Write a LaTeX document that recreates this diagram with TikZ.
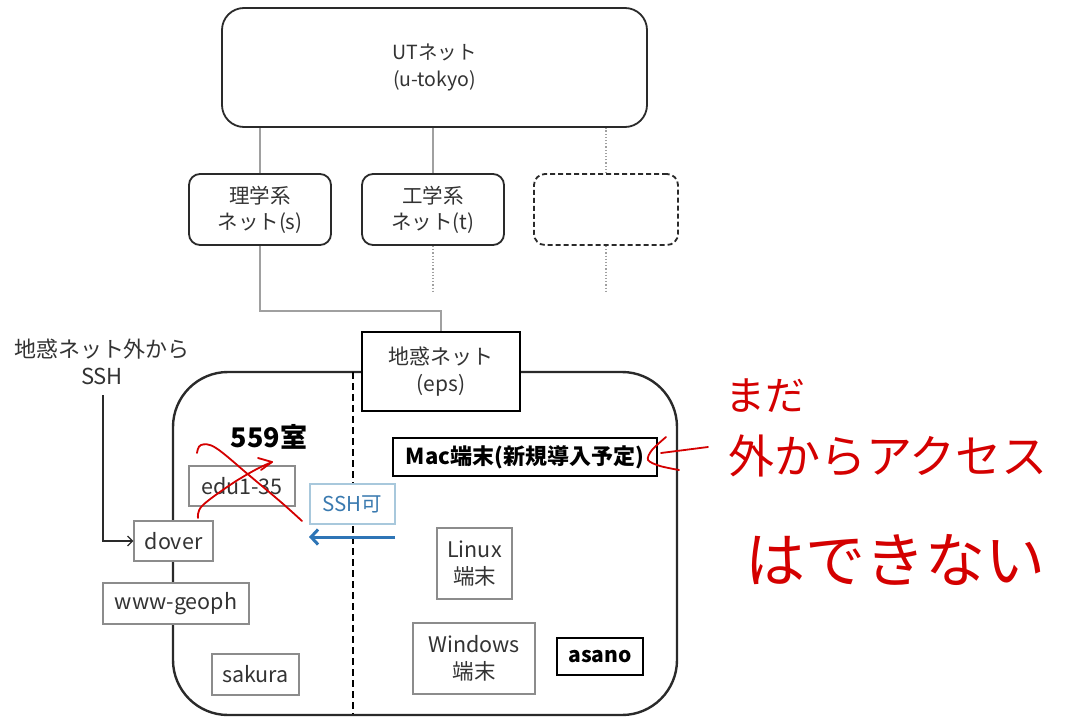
\documentclass[tikz,border=0pt]{standalone}
\usepackage{fontspec}
\setmainfont{Noto Sans CJK JP}
\usetikzlibrary{arrows.meta}
\definecolor{lgray}{HTML}{A0A0A0}
\definecolor{bgray}{HTML}{8C8C8C}
\definecolor{tgray}{HTML}{333333}
\definecolor{dkline}{HTML}{2A2A2A}
\definecolor{hred}{HTML}{D40000}
\definecolor{sshblue}{HTML}{3A7AB0}
\definecolor{sshborder}{HTML}{A8C8DC}
\definecolor{arrblue}{HTML}{2E75B6}
\tikzset{
  base/.style={font=\fontsize{20.5}{26}\selectfont, text=tgray, align=center, inner sep=0pt},
  netbox/.style={base, draw=dkline, line width=1.8pt, rounded corners=11pt, fill=white},
  graybox/.style={base, font=\fontsize{21.5}{27}\selectfont, draw=bgray, line width=1.1pt, fill=white},
  blackbox/.style={base, draw=black, line width=1.1pt, fill=white, text=black, font=\fontsize{22}{24}\selectfont\bfseries},
  gline/.style={draw=lgray, line width=1.2pt},
  dline/.style={draw=lgray, line width=1.2pt, dotted},
  hand/.style={text=hred, inner sep=0pt},
  redpen/.style={draw=hred, line width=1.8pt, line cap=round, line join=round},
}
\begin{document}
\begin{tikzpicture}[x=1pt, y=-1pt]
\useasboundingbox (0,0) rectangle (1066,717);
\fill[white] (0,0) rectangle (1066,717);

% top network
\node[netbox, font=\fontsize{19.5}{27}\selectfont, rounded corners=22pt, minimum width=425pt, minimum height=119pt] (ut) at (434.5,67.5) {UTネット\\(u-tokyo)};
\node[netbox, minimum width=142pt, minimum height=71pt] (rig) at (260,209.5) {理学系\\ネット(s)};
\node[netbox, minimum width=142pt, minimum height=71pt] (kog) at (433,209.5) {工学系\\ネット(t)};
\node[netbox, dashed, dash pattern=on 5pt off 3pt, minimum width=144pt, minimum height=71pt] (dsh) at (606,209.5) {};

\draw[gline] (rig.north) -- (rig.north |- ut.south);
\draw[gline] (kog.north) -- (kog.north |- ut.south);
\draw[dline] (dsh.north) -- (dsh.north |- ut.south);
\draw[dline] (kog.south) -- ++(0,47);
\draw[dline] (dsh.south) -- ++(0,47);

% big eps area
\node[draw=dkline, line width=2.4pt, rounded corners=55pt, minimum width=504pt, minimum height=343pt, inner sep=0pt] (big) at (425,543.5) {};
\draw[black, line width=2.4pt, dash pattern=on 7pt off 4pt] (353,372) coordinate (dtop) -- (353,714) coordinate (dbot);

\node[base, font=\fontsize{21}{27}\selectfont, draw=black, line width=2.2pt, fill=white, minimum width=158pt, minimum height=79pt] (eps) at (441,371.5) {地惑ネット\\(eps)};
\draw[gline] (rig.south) -- ++(0,65) -| (eps.north);

% left side
\node[base, font=\fontsize{22}{27}\selectfont] (ext) at (102,362) {地惑ネット外から\\SSH};
\coordinate (sshstart) at (103,395);
\node[base, font=\fontsize{27}{28}\selectfont\bfseries, text=black] (room) at (269,437) {559室};
\node[graybox, minimum width=106pt, minimum height=40pt] (edu) at (242,486) {edu1-35};
\node[graybox, minimum width=79pt, minimum height=40pt] (dover) at (173.5,541) {dover};
\node[graybox, minimum width=146pt, minimum height=41pt] (www) at (176,603.5) {www-geoph};
\node[graybox, minimum width=87pt, minimum height=41pt] (sakura) at (255.5,674.5) {sakura};
\draw[dkline, line width=1.3pt, -{Straight Barb[length=5pt, width=10pt]}] (sshstart) |- (dover.west);

% SSH allowed
\node[base, draw=sshborder, line width=1.1pt, fill=white, text=sshblue, minimum width=85pt, minimum height=40pt] (sshk) at (352.5,504) {SSH可};
\coordinate (ba1) at (395,537);
\coordinate (ba2) at (309,537);
\draw[arrblue, line width=3pt, -{Straight Barb[length=7pt, width=15pt]}] (ba1) -- (ba2);

% right side
\node[blackbox, minimum width=264pt, minimum height=38pt] (mac) at (525,457) {Mac端末(新規導入予定)};
\node[graybox, minimum width=75pt, minimum height=71pt] (linux) at (474.5,563.5) {Linux\\端末};
\node[graybox, minimum width=122pt, minimum height=71pt] (win) at (474,658.5) {Windows\\端末};
\node[blackbox, font=\fontsize{21}{24}\selectfont\bfseries, minimum width=86pt, minimum height=37pt] (asano) at (600,656.5) {asano};

% red annotations
\draw[redpen] plot[smooth, tension=0.6] coordinates {(197,453) (201,445) (216,448) (250,476) (282,503) (302,521)};
\draw[redpen] plot[smooth, tension=0.6] coordinates {(198,518) (202,506) (230,485) (255,470) (272,462)};
\draw[redpen] (258,458) -- (272,462) -- (261,470);
\draw[redpen] (708,447) -- (661,453);
\draw[redpen] plot[smooth, tension=0.5] coordinates {(666,437) (652,450) (648,460) (660,466) (679,470)};

\node[hand, font=\fontsize{40}{40}\selectfont] (mada) at (765,396) {まだ};
\node[hand, font=\fontsize{46}{46}\selectfont] (soto) at (888,456) {外からアクセス};
\node[hand, font=\fontsize{60}{60}\selectfont] (deki) at (895,560) {はできない};
\end{tikzpicture}
\end{document}
